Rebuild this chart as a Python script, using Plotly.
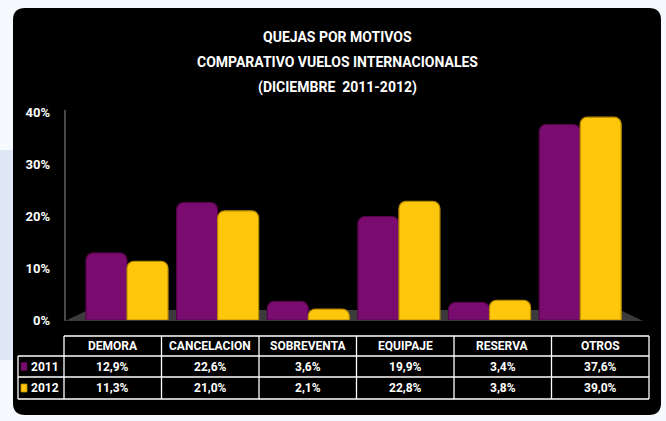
import plotly.graph_objects as go

# ---------------- data ----------------
categories = ["DEMORA", "CANCELACION", "SOBREVENTA", "EQUIPAJE", "RESERVA", "OTROS"]
series_names = ["2011", "2012"]
values_2011 = [12.9, 22.6, 3.6, 19.9, 3.4, 37.6]
values_2012 = [11.3, 21.0, 2.1, 22.8, 3.8, 39.0]
y_ticks = [0, 10, 20, 30, 40]
y_tick_labels = ["0%", "10%", "20%", "30%", "40%"]
title_lines = ["QUEJAS POR MOTIVOS",
               "COMPARATIVO VUELOS INTERNACIONALES",
               "(DICIEMBRE  2011-2012)"]

# ---------------- styling ----------------
W, H = 666, 421
L, R, T, B = 65, 26, 112, 101
pw, ph = W - L - R, H - T - B
FONT = "Liberation Sans Narrow, Roboto, Arial Narrow, sans-serif"
PURPLE, PURPLE_EDGE = "#7b0c6f", "#520449"
GOLD, GOLD_EDGE = "#ffc70c", "#b88a00"
colors = [PURPLE, GOLD]
edges = [PURPLE_EDGE, GOLD_EDGE]


def px(x):
    return (x - L) / pw


def py(y):
    return (H - B - y) / ph


fig = go.Figure()
for name, vals, c, e in zip(series_names, [values_2011, values_2012], colors, edges):
    fig.add_trace(go.Bar(
        x=categories, y=vals, name=name,
        marker=dict(color=c, line=dict(color=e, width=1.2), cornerradius=7),
        hoverinfo="x+y",
    ))

shapes = []
# outer black rounded panel
x0, y0, x1, y1, r = 13, 8, 661, 415, 12
path = (f"M {px(x0 + r)} {py(y0)} L {px(x1 - r)} {py(y0)} "
        f"Q {px(x1)} {py(y0)} {px(x1)} {py(y0 + r)} L {px(x1)} {py(y1 - r)} "
        f"Q {px(x1)} {py(y1)} {px(x1 - r)} {py(y1)} L {px(x0 + r)} {py(y1)} "
        f"Q {px(x0)} {py(y1)} {px(x0)} {py(y1 - r)} L {px(x0)} {py(y0 + r)} "
        f"Q {px(x0)} {py(y0)} {px(x0 + r)} {py(y0)} Z")
shapes.append(dict(type="path", xref="paper", yref="paper", path=path,
                   fillcolor="#000000", line=dict(width=0), layer="below"))
# light blue tint on left margin
shapes.append(dict(type="rect", xref="paper", yref="paper", x0=px(0), x1=px(13),
                   y0=py(150), y1=py(360), fillcolor="#cfdcf0", line=dict(width=0),
                   layer="below", opacity=0.6))
# floor
fpath = (f"M {px(65)} {py(321)} L {px(88)} {py(310)} L {px(620)} {py(310)} "
         f"L {px(643)} {py(321)} Z")
shapes.append(dict(type="path", xref="paper", yref="paper", path=fpath,
                   fillcolor="#3b3b3b", line=dict(width=0), layer="below"))
# wall line
shapes.append(dict(type="line", xref="paper", yref="paper", x0=px(65), x1=px(65),
                   y0=py(110), y1=py(321), line=dict(color="#7a7a7a", width=1.2)))

# ---------------- data table ----------------
tx0, tx_first, col_w = 18, 64, 97.5
row_y = [336, 356, 377, 399]
tx_end = tx_first + col_w * len(categories)
wl = dict(color="#ffffff", width=1.3)
shapes.append(dict(type="line", xref="paper", yref="paper", x0=px(tx_first), x1=px(tx_end),
                   y0=py(row_y[0]), y1=py(row_y[0]), line=wl))
for yy in row_y[1:]:
    shapes.append(dict(type="line", xref="paper", yref="paper", x0=px(tx0), x1=px(tx_end),
                       y0=py(yy), y1=py(yy), line=wl))
shapes.append(dict(type="line", xref="paper", yref="paper", x0=px(tx0), x1=px(tx0),
                   y0=py(row_y[1]), y1=py(row_y[3]), line=wl))
for i in range(len(categories) + 1):
    xx = tx_first + col_w * i
    shapes.append(dict(type="line", xref="paper", yref="paper", x0=px(xx), x1=px(xx),
                       y0=py(row_y[0]), y1=py(row_y[3]), line=wl))

annotations = []
for k, line in enumerate(title_lines):
    annotations.append(dict(text=f"<b>{line}</b>", xref="paper", yref="paper",
                            x=px(337), y=py(37 + 25 * k), showarrow=False,
                            font=dict(family=FONT, size=14, color="white"),
                            xanchor="center", yanchor="middle"))

cell_font = dict(family=FONT, size=12, color="white")
for i, cat in enumerate(categories):
    cx = tx_first + col_w * (i + 0.5)
    annotations.append(dict(text=f"<b>{cat}</b>", xref="paper", yref="paper", x=px(cx),
                            y=py((row_y[0] + row_y[1]) / 2), showarrow=False, font=cell_font,
                            xanchor="center", yanchor="middle"))
    for j, vals in enumerate([values_2011, values_2012]):
        txt = f"{vals[i]:.1f}".replace(".", ",") + "%"
        annotations.append(dict(text=f"<b>{txt}</b>", xref="paper", yref="paper", x=px(cx),
                                y=py((row_y[j + 1] + row_y[j + 2]) / 2), showarrow=False,
                                font=cell_font, xanchor="center", yanchor="middle"))
for j, name in enumerate(series_names):
    cy = (row_y[j + 1] + row_y[j + 2]) / 2
    shapes.append(dict(type="rect", xref="paper", yref="paper", x0=px(21), x1=px(27),
                       y0=py(cy - 4), y1=py(cy + 4), fillcolor=colors[j],
                       line=dict(color=edges[j], width=0.8)))
    annotations.append(dict(text=f"<b>{name}</b>", xref="paper", yref="paper", x=px(29),
                            y=py(cy), showarrow=False, font=cell_font,
                            xanchor="left", yanchor="middle"))

fig.update_layout(
    width=W, height=H,
    margin=dict(l=L, r=R, t=T, b=B),
    paper_bgcolor="#f6f9fd",
    plot_bgcolor="rgba(0,0,0,0)",
    showlegend=False,
    barmode="group", bargap=0.095, bargroupgap=0.0,
    shapes=shapes, annotations=annotations,
    font=dict(family=FONT, color="white"),
    xaxis=dict(type="category", range=[-0.684, 5.66], showticklabels=False,
               showgrid=False, zeroline=False, showline=False),
    yaxis=dict(range=[0, 40], tickvals=y_ticks,
               ticktext=[f"<b>{t}</b>" for t in y_tick_labels], showgrid=False,
               zeroline=False, showline=False,
               tickfont=dict(family=FONT, size=13, color="white"),
               ticklabelstandoff=14),
)

fig.write_html("out.html")
